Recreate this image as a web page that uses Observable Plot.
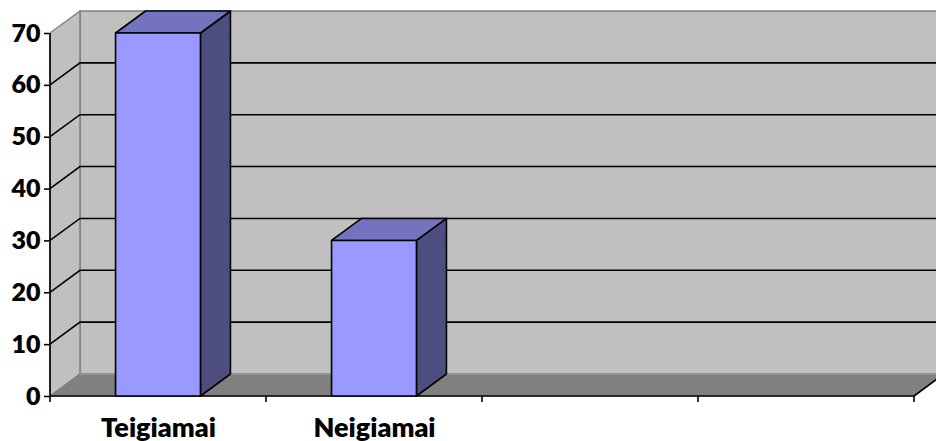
<!DOCTYPE html>
<html>
<head>
<meta charset="utf-8">
<script src="https://cdn.jsdelivr.net/npm/d3@7"></script>
<script src="https://cdn.jsdelivr.net/npm/@observablehq/plot@0.6"></script>
<style>
  html, body { margin: 0; padding: 0; background: #fff; }
  #chart svg { display: block; }
</style>
</head>
<body>
<div id="chart"></div>
<script>
// ---- data ----
const categories = ["Teigiamai", "Neigiamai", "", ""];
const values = [70, 30, null, null];
const yTicks = [0, 10, 20, 30, 40, 50, 60, 70];

// ---- style constants (pixels) ----
const DX = 30, DY = -22;      // 3D depth offset
const BAR_FRAC = 0.393;       // bar width as fraction of a category slot
const FONT = "Lato, 'Open Sans', sans-serif";

const rows = categories.map((c, i) => ({i, category: c, value: values[i]}));
const idx = d3.range(categories.length);

function poly(g, pts, fill, stroke, sw) {
  g.append("polygon")
    .attr("points", pts.map(p => p.join(",")).join(" "))
    .attr("fill", fill)
    .attr("stroke", stroke)
    .attr("stroke-width", sw)
    .attr("stroke-linejoin", "round");
}
function line(g, pts, stroke, sw) {
  g.append("polyline")
    .attr("points", pts.map(p => p.join(",")).join(" "))
    .attr("fill", "none")
    .attr("stroke", stroke)
    .attr("stroke-width", sw);
}

// Walls, floor, gridlines and axis lines
function backdrop(index, scales) {
  const x = scales.x, y = scales.y;
  const step = x(1) - x(0);
  const x0 = x(0), x1 = x(categories.length - 1) + step;
  const yb = y(0), yt = y(yTicks[yTicks.length - 1]);
  const g = d3.create("svg:g");
  // back wall
  poly(g, [[x0 + DX, yt + DY], [x1 + DX, yt + DY], [x1 + DX, yb + DY], [x0 + DX, yb + DY]], "#c0c0c0", "#808080", 1.5);
  // left wall
  poly(g, [[x0, yb], [x0, yt], [x0 + DX, yt + DY], [x0 + DX, yb + DY]], "#c0c0c0", "#808080", 1.5);
  // floor
  poly(g, [[x0, yb], [x1, yb], [x1 + DX, yb + DY], [x0 + DX, yb + DY]], "#808080", "#808080", 1);
  line(g, [[x0 + DX, yb + DY], [x1 + DX, yb + DY]], "#a0a0a0", 1);
  // gridlines
  for (const t of yTicks.slice(1, -1)) {
    const yy = y(t);
    line(g, [[x0, yy], [x0 + DX, yy + DY], [x1 + DX, yy + DY]], "#000", 1.6);
  }
  // front axis lines
  line(g, [[x0, yt], [x0, yb]], "#000", 1.6);
  line(g, [[x0, yb], [x1, yb]], "#000", 1.6);
  line(g, [[x1, yb], [x1 + DX, yb + DY]], "#000", 1.6);
  // category boundary ticks
  for (let k = 0; k <= categories.length; k++) {
    const xx = x0 + k * step;
    line(g, [[xx, yb], [xx, yb + 6]], "#000", 1.6);
  }
  return g.node();
}

// 3D bars
function bars(index, scales) {
  const x = scales.x, y = scales.y;
  const step = x(1) - x(0);
  const bw = step * BAR_FRAC;
  const g = d3.create("svg:g");
  for (const r of rows) {
    if (r.value == null) continue;
    const bx0 = x(r.i) + (step - bw) / 2, bx1 = bx0 + bw;
    const yt = y(r.value), yb = y(0);
    poly(g, [[bx1, yt], [bx1 + DX, yt + DY], [bx1 + DX, yb + DY], [bx1, yb]], "#4d4d80", "#000", 1.6);
    poly(g, [[bx0, yt], [bx1, yt], [bx1 + DX, yt + DY], [bx0 + DX, yt + DY]], "#7373bf", "#000", 1.6);
    poly(g, [[bx0, yt], [bx1, yt], [bx1, yb], [bx0, yb]], "#9999ff", "#000", 1.6);
  }
  return g.node();
}

const chart = Plot.plot({
  width: 936,
  height: 441,
  marginLeft: 49,
  marginRight: 21,
  marginTop: 33,
  marginBottom: 45,
  style: {background: "#fff", fontFamily: FONT, color: "#000"},
  x: {type: "band", domain: idx, padding: 0},
  y: {domain: [0, 70]},
  marks: [
    backdrop,
    bars,
    Plot.axisY({ticks: yTicks, tickSize: 5, tickPadding: 4, fontSize: 25, fontWeight: 800, label: null, strokeWidth: 1.6}),
    Plot.axisX({tickSize: 0, tickPadding: 21, fontSize: 27, fontWeight: 800, label: null, tickFormat: i => categories[i]})
  ]
});
document.getElementById("chart").append(chart);
</script>
</body>
</html>
